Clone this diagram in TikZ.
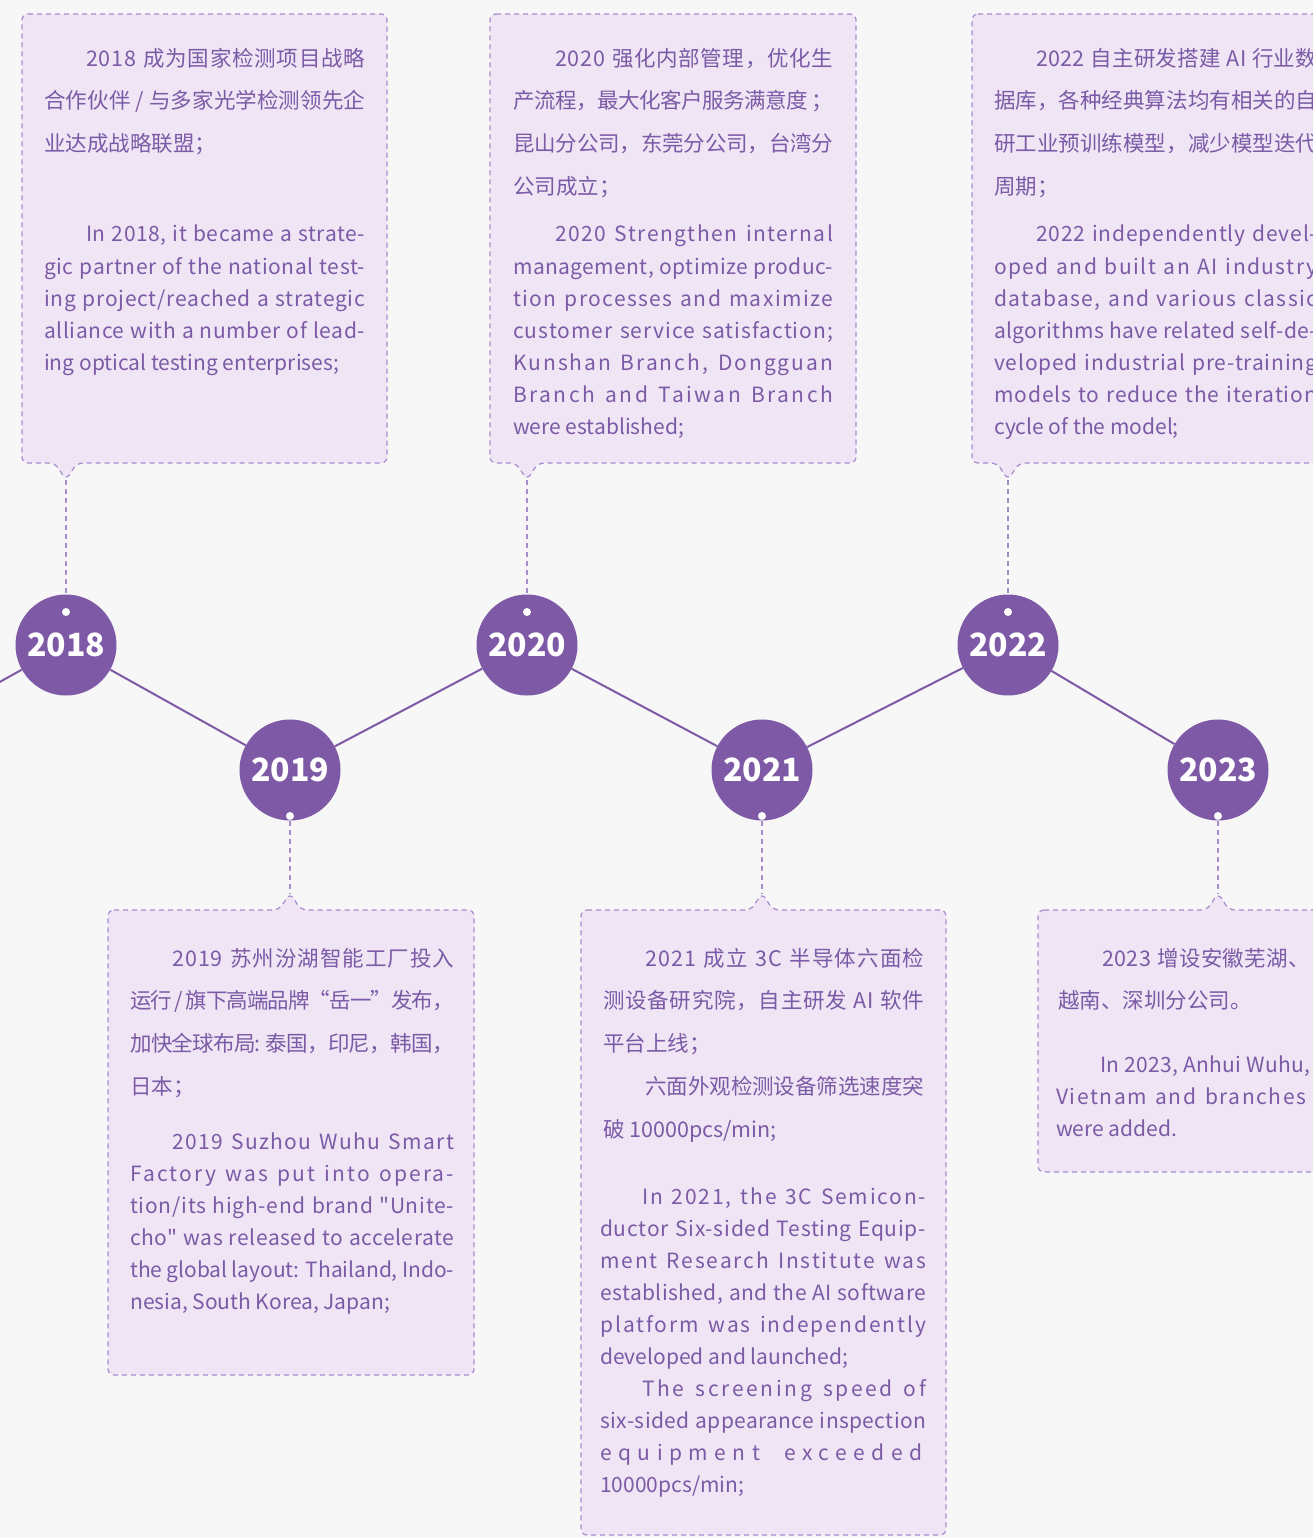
\documentclass[tikz,border=0pt]{standalone}
\usepackage{fontspec}
\usepackage{xstring}
\newfontfamily\txtfont{Noto Sans CJK SC}
\definecolor{bgc}{HTML}{F7F7F7}
\definecolor{cardfill}{HTML}{EFE5F5}
\definecolor{cardline}{HTML}{A68CCC}
\definecolor{dotc}{HTML}{7D59A6}
\definecolor{txtc}{HTML}{7B5AA6}
\newlength\jw
\newlength\jq
\newcommand\jst[2]{%
  \settowidth\jw{#2}\setlength\jq{\fontdimen6\font}%
  \StrLen{#2}[\jn]%
  \pgfmathsetmacro\lsp{round(10*(((#1-\jw)/\jq)*100/\jn))/10}%
  \makebox[#1pt][s]{\addfontfeature{LetterSpace=\lsp}#2}}
\tikzset{
  card/.style={draw=cardline, fill=cardfill, line width=1.2pt, dash pattern=on 5pt off 4pt, rounded corners=6pt},
  yr/.style={circle, fill=dotc, minimum size=101pt, inner sep=0pt, text=white, font=\txtfont\fontsize{32}{32}\selectfont\bfseries},
  zig/.style={draw=dotc, line width=2pt},
  lead/.style={draw=cardline, line width=1.3pt, dash pattern=on 5pt off 4pt},
  hole/.style={circle, fill=white, minimum size=8pt, inner sep=0pt},
  cn/.style={anchor=base west, inner sep=0pt, text=txtc, font=\txtfont\fontsize{21.5}{21.5}\selectfont},
  en/.style={anchor=base west, inner sep=0pt, text=txtc, font=\txtfont\fontsize{21}{21}\selectfont}
}
\begin{document}
\begin{tikzpicture}[x=1pt,y=-1pt]

    \useasboundingbox (0,0) rectangle (1313,1538);
    \fill[bgc] (0,0) rectangle (1313,1538);
    \clip (0,0) rectangle (1313,1538);

    \coordinate (p18) at (66,480);
    \coordinate (p20) at (527,480);
    \coordinate (p22) at (1008,480);
    \coordinate (p19) at (290,893);
    \coordinate (p21) at (762,893);
    \coordinate (p23) at (1218,893);

    \draw[card] (22,14) -- (387,14) -- (387,463) -- (77,463) -- (p18) -- (55,463) -- (22,463) -- cycle;
    \draw[card] (490,14) -- (856,14) -- (856,463) -- (538,463) -- (p20) -- (516,463) -- (490,463) -- cycle;
    \draw[card] (972,14) -- (1340,14) -- (1340,463) -- (1019,463) -- (p22) -- (997,463) -- (972,463) -- cycle;
    \draw[card] (108,910) -- (279,910) -- (p19) -- (301,910) -- (474,910) -- (474,1375) -- (108,1375) -- cycle;
    \draw[card] (581,910) -- (751,910) -- (p21) -- (773,910) -- (946,910) -- (946,1535) -- (581,1535) -- cycle;
    \draw[card] (1038,910) -- (1207,910) -- (p23) -- (1229,910) -- (1340,910) -- (1340,1172) -- (1038,1172) -- cycle;

    \node[yr] (y18) at (66,645) {2018};
    \node[yr] (y19) at (290,770) {2019};
    \node[yr] (y20) at (527,645) {2020};
    \node[yr] (y21) at (762,770) {2021};
    \node[yr] (y22) at (1008,645) {2022};
    \node[yr] (y23) at (1218,770) {2023};
    \coordinate (y17) at (-158,770);

    \draw[zig] (y17) -- (y18) -- (y19) -- (y20) -- (y21) -- (y22) -- (y23);

    \node[hole] (h18) at (66,612) {};
    \node[hole] (h20) at (527,612) {};
    \node[hole] (h22) at (1008,612) {};
    \node[hole] (h19) at (290,816) {};
    \node[hole] (h21) at (762,816) {};
    \node[hole] (h23) at (1218,816) {};

    \draw[lead] (p18) -- (y18);
    \draw[lead] (p20) -- (y20);
    \draw[lead] (p22) -- (y22);
    \draw[lead] (y19) -- (p19);
    \draw[lead] (y21) -- (p21);
    \draw[lead] (y23) -- (p23);

    \node[cn] (c18a) at (86,67) {\jst{279}{2018 成为国家检测项目战略}};
    \node[cn] (c18b) at (44,109) {\jst{321}{合作伙伴 / 与多家光学检测领先企}};
    \node[cn] (c18c) at (44,152) {业达成战略联盟；};
    \node[en] (e18a) at (86,242) {\jst{279}{In 2018, it became a strate-}};
    \node[en] (e18b) at (44,274) {\jst{321}{gic partner of the national test-}};
    \node[en] (e18c) at (44,306) {\jst{321}{ing project/reached a strategic}};
    \node[en] (e18d) at (44,338) {\jst{321}{alliance with a number of lead-}};
    \node[en] (e18e) at (44,370) {ing optical testing enterprises;};

    \node[cn] (c20a) at (555,67) {\jst{278}{2020 强化内部管理，优化生}};
    \node[cn] (c20b) at (513,109) {\jst{320}{产流程，最大化客户服务满意度 ；}};
    \node[cn] (c20c) at (513,152) {\jst{320}{昆山分公司，东莞分公司，台湾分}};
    \node[cn] (c20d) at (513,195) {公司成立；};
    \node[en] (e20a) at (555,242) {\jst{278}{2020 Strengthen internal}};
    \node[en] (e20b) at (513,274) {\jst{320}{management, optimize produc-}};
    \node[en] (e20c) at (513,306) {\jst{320}{tion processes and maximize}};
    \node[en] (e20d) at (513,338) {\jst{320}{customer service satisfaction;}};
    \node[en] (e20e) at (513,370) {\jst{320}{Kunshan Branch, Dongguan}};
    \node[en] (e20f) at (513,402) {\jst{320}{Branch and Taiwan Branch}};
    \node[en] (e20g) at (513,434) {were established;};

    \node[cn] (c22a) at (1036,67) {\jst{281}{2022 自主研发搭建 AI 行业数}};
    \node[cn] (c22b) at (994,109) {\jst{323}{据库，各种经典算法均有相关的自}};
    \node[cn] (c22c) at (994,152) {\jst{323}{研工业预训练模型，减少模型迭代}};
    \node[cn] (c22d) at (994,195) {周期；};
    \node[en] (e22a) at (1036,242) {\jst{281}{2022 independently devel-}};
    \node[en] (e22b) at (994,274) {\jst{323}{oped and built an AI industry}};
    \node[en] (e22c) at (994,306) {\jst{323}{database, and various classic}};
    \node[en] (e22d) at (994,338) {\jst{323}{algorithms have related self-de-}};
    \node[en] (e22e) at (994,370) {\jst{323}{veloped industrial pre-training}};
    \node[en] (e22f) at (994,402) {\jst{323}{models to reduce the iteration}};
    \node[en] (e22g) at (994,434) {cycle of the model;};

    \node[cn] (c19a) at (172,966) {\jst{282}{2019 苏州汾湖智能工厂投入}};
    \node[cn] (c19b) at (130,1008) {\jst{323}{运行 / 旗下高端品牌“岳一”发布，}};
    \node[cn] (c19c) at (130,1051) {\jst{323}{加快全球布局: 泰国，印尼，韩国，}};
    \node[cn] (c19d) at (130,1094) {日本；};
    \node[en] (e19a) at (172,1149) {\jst{282}{2019 Suzhou Wuhu Smart}};
    \node[en] (e19b) at (130,1181) {\jst{324}{Factory was put into opera-}};
    \node[en] (e19c) at (130,1213) {\jst{324}{tion/its high-end brand "Unite-}};
    \node[en] (e19d) at (130,1245) {\jst{324}{cho" was released to accelerate}};
    \node[en] (e19e) at (130,1277) {\jst{324}{the global layout: Thailand, Indo-}};
    \node[en] (e19f) at (130,1309) {nesia, South Korea, Japan;};

    \node[cn] (c21a) at (645,966) {\jst{279}{2021 成立 3C 半导体六面检}};
    \node[cn] (c21b) at (603,1008) {\jst{321}{测设备研究院，自主研发 AI 软件}};
    \node[cn] (c21c) at (603,1051) {平台上线；};
    \node[cn] (c21d) at (645,1094) {\jst{279}{六面外观检测设备筛选速度突}};
    \node[cn] (c21e) at (603,1137) {破 10000pcs/min;};
    \node[en] (e21a) at (642,1204) {\jst{284}{In 2021, the 3C Semicon-}};
    \node[en] (e21b) at (600,1236) {\jst{326}{ductor Six-sided Testing Equip-}};
    \node[en] (e21c) at (600,1268) {\jst{326}{ment Research Institute was}};
    \node[en] (e21d) at (600,1300) {\jst{326}{established, and the AI software}};
    \node[en] (e21e) at (600,1332) {\jst{326}{platform was independently}};
    \node[en] (e21f) at (600,1364) {developed and launched;};
    \node[en] (e21g) at (642,1396) {\jst{284}{The screening speed of}};
    \node[en] (e21h) at (600,1428) {\jst{326}{six-sided appearance inspection}};
    \node[en] (e21i) at (600,1460) {\jst{322}{equipment exceeded}};
    \node[en] (e21j) at (600,1492) {10000pcs/min;};

    \node[cn] (c23a) at (1102,966) {\jst{208}{2023 增设安徽芜湖、}};
    \node[cn] (c23b) at (1058,1008) {越南、深圳分公司。};
    \node[en] (e23a) at (1100,1072) {\jst{210}{In 2023, Anhui Wuhu,}};
    \node[en] (e23b) at (1056,1104) {\jst{250}{Vietnam and branches}};
    \node[en] (e23c) at (1056,1136) {were added.};

\end{tikzpicture}
\end{document}
